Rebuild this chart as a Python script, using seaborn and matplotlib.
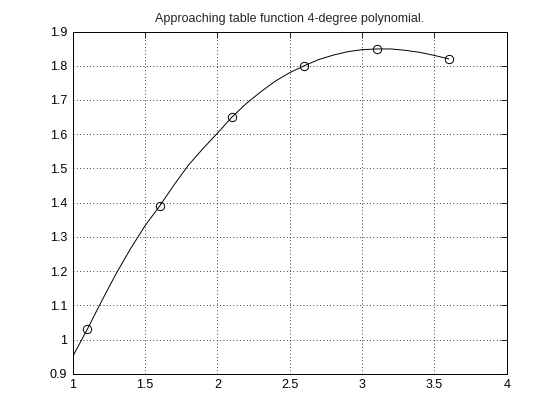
import matplotlib
matplotlib.use("Agg")
import matplotlib.pyplot as plt
import seaborn as sns
import pandas as pd

# table values (circles)
table_x = [1.1, 1.6, 2.1, 2.6, 3.1, 3.6]
table_y = [1.03, 1.39, 1.65, 1.80, 1.85, 1.82]

# approximating curve
curve_x = [1.0, 1.1, 1.2, 1.3, 1.4, 1.5, 1.6, 1.7, 1.8, 1.9, 2.0, 2.1, 2.2, 2.3,
           2.4, 2.5, 2.6, 2.7, 2.8, 2.9, 3.0, 3.1, 3.2, 3.3, 3.4, 3.5, 3.6]
curve_y = [0.951, 1.030, 1.113, 1.193, 1.266, 1.333, 1.390, 1.452, 1.510, 1.558,
           1.603, 1.650, 1.690, 1.724, 1.755, 1.780, 1.800, 1.818, 1.831, 1.841,
           1.847, 1.849, 1.849, 1.845, 1.839, 1.830, 1.820]

x_ticks = [1, 1.5, 2, 2.5, 3, 3.5, 4]
y_ticks = [0.9, 1.0, 1.1, 1.2, 1.3, 1.4, 1.5, 1.6, 1.7, 1.8, 1.9]
title = 'Approaching table function 4-degree polynomial.'

sns.set_style("white")
plt.rcParams['font.family'] = ['Liberation Sans', 'DejaVu Sans']
plt.rcParams['font.size'] = 9
plt.rcParams['xtick.direction'] = 'in'
plt.rcParams['ytick.direction'] = 'in'

fig = plt.figure(figsize=(5.6, 4.2), dpi=100)
ax = fig.add_axes([0.13, 0.11, 0.775, 0.815])

curve = pd.DataFrame({'x': curve_x, 'y': curve_y})
table = pd.DataFrame({'x': table_x, 'y': table_y})

sns.lineplot(data=curve, x='x', y='y', ax=ax, color='black', linewidth=0.7,
             sort=False, zorder=3)
ax.plot(table['x'], table['y'], linestyle='none', marker='o', markersize=6,
        markerfacecolor='none', markeredgecolor='black', markeredgewidth=0.7,
        zorder=4)

ax.set_xlim(1, 4)
ax.set_ylim(0.9, 1.9)
ax.set_xticks(x_ticks)
ax.set_yticks(y_ticks)
ax.set_xticklabels(['%g' % v for v in x_ticks])
ax.set_yticklabels(['%g' % v for v in y_ticks])
ax.tick_params(length=4, width=0.6, colors='black', labelsize=9, pad=4,
               top=True, right=True)
ax.grid(True, color='black', linestyle=(0, (1, 3)), linewidth=0.6)
for s in ax.spines.values():
    s.set_visible(True)
    s.set_color('black')
    s.set_linewidth(0.7)
ax.set_xlabel('')
ax.set_ylabel('')
ax.set_title(title, fontsize=9, pad=7)

fig.savefig('out.png', dpi=100, facecolor='white')
